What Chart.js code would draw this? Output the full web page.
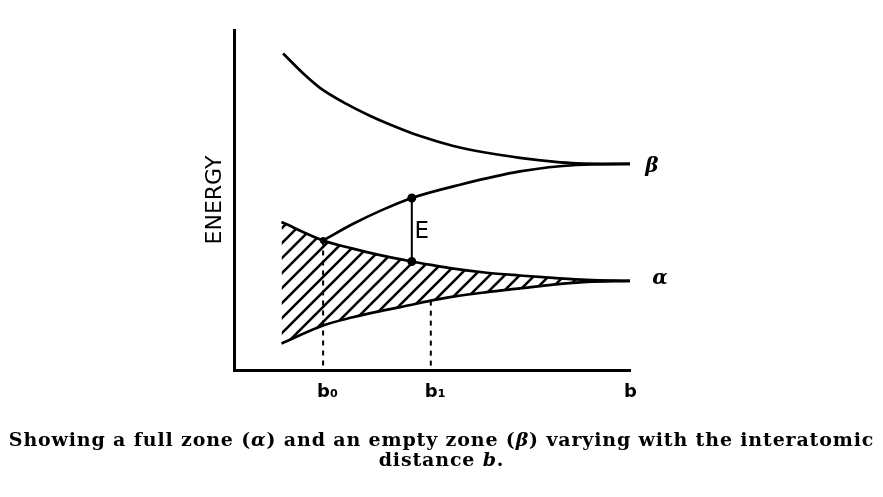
<!DOCTYPE html>
<html>
<head>
<meta charset="utf-8">
<script src="https://cdn.jsdelivr.net/npm/chart.js@4/dist/chart.umd.min.js"></script>
<style>
  html, body { margin: 0; padding: 0; background: #ffffff; }
  canvas { display: block; }
</style>
</head>
<body>
<canvas id="c" width="883" height="497"></canvas>
<script>
// ---- data ----
const betaUpperX = [1.24, 1.75, 2.17, 2.85, 3.43, 3.86, 4.70, 5.54, 6.38, 7.22, 8.06, 8.65, 10];
const betaUpperY = [9.31, 8.72, 8.30, 7.82, 7.48, 7.26, 6.88, 6.59, 6.39, 6.24, 6.13, 6.08, 6.06];

const betaLowerX = [2.25, 3.01, 3.69, 4.49, 5.71, 7.22, 8.65, 10];
const betaLowerY = [3.81, 4.30, 4.68, 5.06, 5.45, 5.84, 6.03, 6.06];

const alphaX      = [1.2, 2.25, 3.0, 3.6, 4.49, 4.97, 5.54, 6.38, 7.22, 8.06, 8.91, 10];
const alphaUpperY = [4.35, 3.81, 3.57, 3.40, 3.19, 3.09, 2.98, 2.86, 2.78, 2.71, 2.65, 2.62];
const alphaLowerY = [0.78, 1.31, 1.55, 1.71, 1.92, 2.04, 2.16, 2.29, 2.40, 2.51, 2.59, 2.62];

const b0 = 2.25, b1 = 4.97, bEnd = 10;
const tickValues = [b0, b1, bEnd];
const tickLabels = ['b\u2080', 'b\u2081', 'b'];

const gapX = 4.49;              // where the gap E is measured
const gapTop = betaLowerY[betaLowerX.indexOf(gapX)];
const gapBottom = alphaUpperY[alphaX.indexOf(gapX)];
const crossing = {x: b0, y: alphaUpperY[alphaX.indexOf(b0)]};

// caption: [text, italic] pieces per line
const captionLine1 = [['Showing a full zone (', false], ['\u03b1', true], [') and an empty zone (', false],
                      ['\u03b2', true], [') varying with the interatomic', false]];
const captionLine2 = [['distance ', false], ['b', true], ['.', false]];

// ---- helpers ----
const pts = (xs, ys) => xs.map((x, i) => ({x: x, y: ys[i]}));

function hatchPattern() {
  const s = 15;
  const c = document.createElement('canvas');
  c.width = s; c.height = s;
  const g = c.getContext('2d');
  g.strokeStyle = '#000';
  g.lineWidth = 2.6;
  g.lineCap = 'square';
  g.beginPath();
  g.moveTo(-2, s + 2); g.lineTo(s + 2, -2);
  g.moveTo(-2, 2); g.lineTo(2, -2);
  g.moveTo(s - 2, s + 2); g.lineTo(s + 2, s - 2);
  g.stroke();
  return g.createPattern(c, 'repeat');
}

const curve = {
  borderColor: '#000', borderWidth: 2.7, pointRadius: 0,
  cubicInterpolationMode: 'monotone', fill: false
};

function drawPieces(ctx, pieces, cx, cy) {
  const fontOf = it => (it ? 'italic ' : '') + 'bold 19px "DejaVu Serif"';
  let total = 0;
  const widths = pieces.map(([t, it]) => { ctx.font = fontOf(it); const w = ctx.measureText(t).width; total += w; return w; });
  let xx = cx - total / 2;
  ctx.textAlign = 'left';
  pieces.forEach(([t, it], i) => { ctx.font = fontOf(it); ctx.fillText(t, xx, cy); xx += widths[i]; });
}

const labelPlugin = {
  id: 'labels',
  afterDraw(chart) {
    const {ctx, chartArea, scales: {x, y}} = chart;
    ctx.save();
    ctx.fillStyle = '#000';
    ctx.textBaseline = 'middle';
    ctx.textAlign = 'center';
    ctx.font = 'italic bold 20px "DejaVu Serif"';
    ctx.fillText('\u03b2', x.getPixelForValue(bEnd) + 22, y.getPixelForValue(betaUpperY[betaUpperY.length - 1]) + 3);
    ctx.fillText('\u03b1', x.getPixelForValue(bEnd) + 30, y.getPixelForValue(alphaUpperY[alphaUpperY.length - 1]) - 2);
    ctx.font = '23px "DejaVu Sans"';
    ctx.fillText('E', x.getPixelForValue(gapX) + 10, (y.getPixelForValue(gapTop) + y.getPixelForValue(gapBottom)) / 2 + 2);
    // caption below the chart
    ctx.letterSpacing = '0.85px';
    const cx = chart.width / 2;
    const y0 = chartArea.bottom + 71;
    drawPieces(ctx, captionLine1, cx, y0);
    drawPieces(ctx, captionLine2, cx, y0 + 20);
    ctx.restore();
  }
};

new Chart(document.getElementById('c'), {
  type: 'line',
  data: {
    datasets: [
      Object.assign({label: 'beta upper', data: pts(betaUpperX, betaUpperY)}, curve),
      Object.assign({label: 'beta lower', data: pts(betaLowerX, betaLowerY)}, curve),
      Object.assign({}, curve, {label: 'alpha upper', data: pts(alphaX, alphaUpperY),
        fill: {target: '+1'}, backgroundColor: hatchPattern()}),
      Object.assign({label: 'alpha lower', data: pts(alphaX, alphaLowerY)}, curve),
      {label: 'b0', data: [{x: b0, y: crossing.y}, {x: b0, y: 0}], borderColor: '#000',
        borderWidth: 2, borderDash: [5, 5], pointRadius: 0, fill: false},
      {label: 'b1', data: [{x: b1, y: alphaLowerY[alphaX.indexOf(b1)]}, {x: b1, y: 0}], borderColor: '#000',
        borderWidth: 2, borderDash: [5, 5], pointRadius: 0, fill: false},
      {label: 'E', data: [{x: gapX, y: gapTop}, {x: gapX, y: gapBottom}], borderColor: '#000',
        borderWidth: 2, pointRadius: 3.5, pointBackgroundColor: '#000', pointBorderColor: '#000', fill: false},
      {label: 'cross', data: [crossing], pointRadius: 3, pointBackgroundColor: '#000',
        pointBorderColor: '#000', showLine: false}
    ]
  },
  options: {
    responsive: false,
    animation: false,
    events: [],
    layout: {padding: {top: 30, bottom: 87, left: 0, right: 0}},
    plugins: {
      legend: {display: false},
      tooltip: {enabled: false},
      title: {display: false}
    },
    scales: {
      x: {
        type: 'linear', min: 0, max: 10,
        grid: {display: false, drawTicks: false},
        border: {display: true, color: '#000', width: 3},
        afterBuildTicks: s => { s.ticks = tickValues.map(v => ({value: v})); },
        afterFit: s => { s.height = 40; },
        ticks: {
          autoSkip: false, maxRotation: 0, color: '#000', padding: 12,
          align: 'start', labelOffset: -6,
          font: {family: '"DejaVu Sans"', weight: 'bold', size: 18},
          callback: v => { const i = tickValues.indexOf(v); return i >= 0 ? tickLabels[i] : ''; }
        }
      },
      y: {
        type: 'linear', min: 0, max: 10, position: 'left',
        grid: {display: false, drawTicks: false},
        border: {display: true, color: '#000', width: 3},
        ticks: {display: false},
        afterFit: s => { s.width = 234; },
        title: {
          display: true, text: 'ENERGY', color: '#000',
          padding: {top: 202, bottom: 0},
          font: {family: '"DejaVu Sans"', size: 22, lineHeight: 1.2}
        }
      },
      y2: {
        type: 'linear', position: 'right', min: 0, max: 10,
        grid: {display: false, drawTicks: false},
        border: {display: false},
        ticks: {display: false},
        afterFit: s => { s.width = 253; }
      }
    }
  },
  plugins: [labelPlugin]
});
</script>
</body>
</html>
